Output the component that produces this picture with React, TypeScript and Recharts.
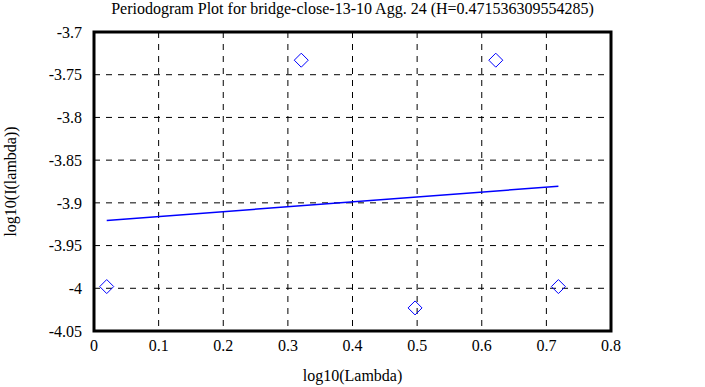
import { ScatterChart, Scatter, XAxis, YAxis, CartesianGrid, ReferenceArea, Label } from 'recharts';

const logLambda = [0.0197, 0.3207, 0.4968, 0.6217, 0.7186];
const logI = [-3.998, -3.733, -4.023, -3.733, -3.998];

const fitX = [0.0197, 0.7186];
const fitY = [-3.9207, -3.8805];

const xTicks = [0, 0.1, 0.2, 0.3, 0.4, 0.5, 0.6, 0.7, 0.8];
const yTicks = [-4.05, -4, -3.95, -3.9, -3.85, -3.8, -3.75, -3.7];

const points = logLambda.map((x, i) => ({ x, y: logI[i] }));
const fit = fitX.map((x, i) => ({ x, y: fitY[i] }));

const font = "'Liberation Serif', 'DejaVu Serif', 'Times New Roman', serif";

function Diamond(props: any) {
  const { cx, cy } = props;
  if (cx == null || cy == null) return null;
  const r = 7;
  return (
    <path
      d={`M${cx},${cy - r} L${cx + r},${cy} L${cx},${cy + r} L${cx - r},${cy} Z`}
      fill="none"
      stroke="#0000ff"
      strokeWidth={1}
    />
  );
}

export default function App() {
  return (
    <div style={{ position: 'absolute', left: 0, top: 0, width: 705, height: 387, background: '#fff', fontFamily: font }}>
      <div style={{ position: 'absolute', top: 0, left: 0, width: 705, textAlign: 'center', fontSize: 16, lineHeight: '18px', color: '#000', fontFamily: font }}>
        Periodogram Plot for bridge-close-13-10 Agg. 24 (H=0.471536309554285)
      </div>
      <ScatterChart width={705} height={387} margin={{ top: 32, right: 94, bottom: 0, left: 0 }} style={{ fontFamily: font }}>
        <CartesianGrid stroke="#000" strokeDasharray="6 6" strokeWidth={1} />
        <XAxis
          type="number"
          dataKey="x"
          domain={[0, 0.8]}
          ticks={xTicks}
          interval={0}
          height={56}
          axisLine={false}
          tickLine={false}
          tick={{ fill: '#000', fontSize: 16, fontFamily: font }}
          tickMargin={3}
        >
          <Label value="log10(Lambda)" position="insideBottom" offset={6} style={{ fill: '#000', fontSize: 16, fontFamily: font }} />
        </XAxis>
        <YAxis
          type="number"
          dataKey="y"
          domain={[-4.05, -3.7]}
          ticks={yTicks}
          interval={0}
          width={94}
          axisLine={false}
          tickLine={false}
          tick={{ fill: '#000', fontSize: 16, fontFamily: font }}
          tickMargin={6}
        >
          <Label value="log10(I(lambda))" angle={-90} position="insideLeft" offset={10} style={{ fill: '#000', fontSize: 16, fontFamily: font, textAnchor: 'middle' }} />
        </YAxis>
        <ReferenceArea x1={0} x2={0.8} y1={-4.05} y2={-3.7} fill="none" stroke="#000" strokeWidth={3} />
        <Scatter data={fit} line={{ stroke: '#0000ff', strokeWidth: 1.5 }} shape={() => null} isAnimationActive={false} />
        <Scatter data={points} shape={<Diamond />} isAnimationActive={false} />
      </ScatterChart>
    </div>
  );
}
